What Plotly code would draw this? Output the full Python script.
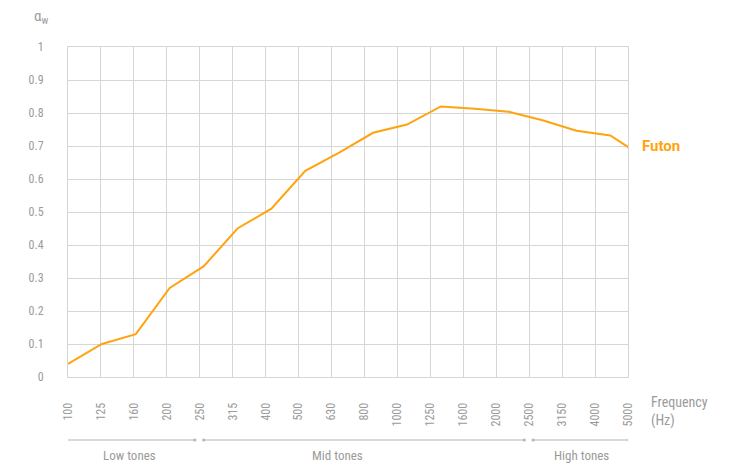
import plotly.graph_objects as go

# Third-octave band centre frequencies (Hz) and measured absorption coefficient
frequencies = ["100", "125", "160", "200", "250", "315", "400", "500", "630",
               "800", "1000", "1250", "1600", "2000", "2500", "3150", "4000", "5000"]
alpha_futon = [0.04, 0.10, 0.13, 0.27, 0.335, 0.45, 0.51, 0.625, 0.68,
               0.74, 0.765, 0.82, 0.813, 0.804, 0.778, 0.746, 0.732, 0.665]
series_name = "Futon"

y_ticks = [0, 0.1, 0.2, 0.3, 0.4, 0.5, 0.6, 0.7, 0.8, 0.9, 1]
y_tick_text = ["0", "0.1", "0.2", "0.3", "0.4", "0.5", "0.6", "0.7", "0.8", "0.9", "1"]

# Tone groups: label, first band index, end band index (exclusive boundary), label centre
tone_names = ["Low tones", "Mid tones", "High tones"]
tone_bounds = [(0, 4), (4, 14), (14, 17)]
tone_label_at = [1.88, 8.17, 15.58]

# Plot box in pixels
W, H = 744, 463
L, R, T, B = 68, 628, 47, 377

GRID = "#d6d6d6"
TEXT = "#9b9b9b"
ORANGE = "#FFA30F"
FONT = "Liberation Sans Narrow, Roboto Condensed, DejaVu Sans Condensed, Arial Narrow, sans-serif"


def px_x(px):
    return (px - L) / (R - L)


def px_y(py):
    return (B - py) / (B - T)


idx = list(range(len(frequencies)))

fig = go.Figure()

# Curve sits on its own overlaid axis, with a slightly wider band spacing than the grid
fig.add_trace(go.Scatter(
    x=idx, y=alpha_futon, mode="lines", name=series_name,
    line=dict(color=ORANGE, width=2), xaxis="x2", yaxis="y",
    showlegend=False, hoverinfo="y",
))

fig.update_layout(
    width=W, height=H,
    margin=dict(l=L, r=W - R, t=T, b=H - B, pad=0),
    paper_bgcolor="white", plot_bgcolor="white",
    font=dict(family=FONT, color=TEXT, size=12),
    xaxis=dict(
        range=[0, len(frequencies) - 1],
        tickvals=idx, ticktext=frequencies,
        tickangle=-90, ticks="", showgrid=True, gridcolor=GRID, gridwidth=1,
        zeroline=False, showline=True, linecolor=GRID, mirror=True,
        tickfont=dict(size=12, color=TEXT), ticklabelstandoff=20,
        fixedrange=True,
    ),
    xaxis2=dict(
        range=[0, 16.52], overlaying="x", visible=False, fixedrange=True,
    ),
    yaxis=dict(
        range=[0, 1], tickvals=y_ticks, ticktext=y_tick_text,
        ticks="", showgrid=True, gridcolor=GRID, gridwidth=1,
        zeroline=False, showline=True, linecolor=GRID, mirror=True,
        tickfont=dict(size=12, color=TEXT), ticklabelstandoff=21,
        fixedrange=True,
    ),
)

annotations = [
    dict(text="α<sub>w</sub>", x=px_x(32), y=px_y(17), xref="paper", yref="paper",
         xanchor="left", yanchor="middle", showarrow=False,
         font=dict(size=15, color=TEXT)),
    dict(text="Frequency<br>(Hz)", x=px_x(649), y=px_y(392), xref="paper", yref="paper",
         xanchor="left", yanchor="top", align="left", showarrow=False,
         font=dict(size=14, color=TEXT)),
    dict(text="<b>" + series_name + "</b>", x=px_x(640), y=px_y(146), xref="paper", yref="paper",
         xanchor="left", yanchor="middle", showarrow=False,
         font=dict(size=15, color=ORANGE, family="Roboto, Liberation Sans, sans-serif")),
]

shapes = []
line_y = px_y(440)
n_last = len(frequencies) - 1
for name, (a, b), lx in zip(tone_names, tone_bounds, tone_label_at):
    x0 = a + 0.12 if a > 0 else a - 0.06
    x1 = b - 0.15 if b < n_last else b + 0.03
    shapes.append(dict(type="line", xref="x", yref="paper", x0=x0, x1=x1,
                       y0=line_y, y1=line_y, line=dict(color="#b5b5b5", width=1)))
    for xe in (x0, x1):
        shapes.append(dict(type="circle", xref="x", yref="paper",
                           xsizemode="pixel", ysizemode="pixel",
                           xanchor=xe, yanchor=line_y,
                           x0=-1.6, x1=1.6, y0=-1.6, y1=1.6,
                           fillcolor="#b5b5b5", line=dict(width=0)))
    annotations.append(dict(text=name, x=lx, y=px_y(456), xref="x", yref="paper",
                            xanchor="center", yanchor="middle", showarrow=False,
                            font=dict(size=13, color=TEXT)))

fig.update_layout(annotations=annotations, shapes=shapes)

fig.write_html("out.html", config=dict(displayModeBar=False))
